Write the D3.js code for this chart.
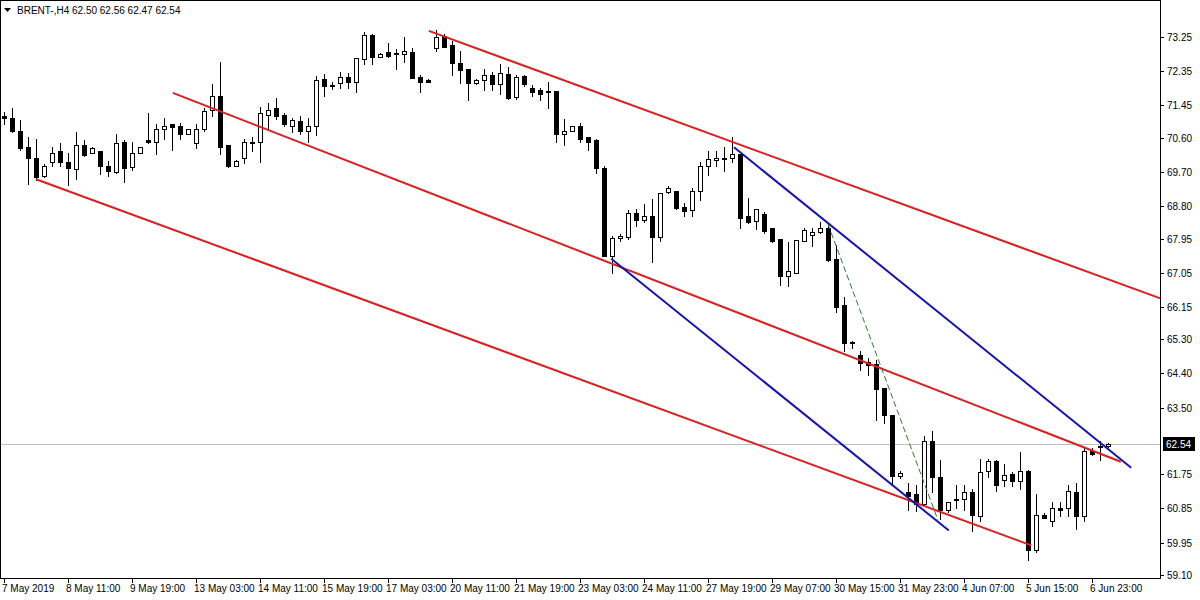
<!DOCTYPE html>
<html>
<head>
<meta charset="utf-8">
<script src="https://cdn.jsdelivr.net/npm/d3@7"></script>
<style>
body{margin:0;background:#fff;}
text{font-family:"Liberation Sans",Arial,sans-serif;font-size:10px;fill:#000;}
text.t{font-size:10px;}
</style>
</head>
<body>
<script>
// H4 candles, oldest first
var opens = [71.18,71.13,70.79,70.37,70.08,69.59,69.95,70.24,69.95,69.77,70.42,70.19,70.24,69.87,69.69,70.48,69.82,70.21,70.53,70.50,
70.84,70.95,70.90,70.71,70.45,70.84,71.34,71.71,70.40,69.87,70.08,70.50,70.48,71.21,71.37,71.21,70.92,71.05,70.79,70.90,
72.15,71.99,72.05,72.20,72.07,72.67,73.30,72.73,72.86,72.83,72.80,72.86,72.20,72.13,72.96,73.28,73.04,72.57,72.41,72.05,
72.13,72.26,72.02,72.28,71.68,72.23,71.92,71.86,71.84,71.84,70.69,70.79,70.90,70.61,70.53,69.80,67.49,67.97,67.99,68.62,
68.44,68.54,67.99,69.17,69.20,68.77,68.70,69.20,69.85,70.01,70.08,70.06,70.16,68.54,68.41,68.59,68.23,67.94,66.97,67.05,
67.89,68.04,68.12,68.23,67.42,66.19,65.21,64.88,64.70,64.64,64.02,63.31,61.71,61.29,61.22,60.98,62.63,61.69,60.82,61.09,
61.11,61.27,60.64,61.84,62.10,61.61,61.76,61.58,61.84,59.75,60.69,60.51,60.85,60.85,61.29,60.64,62.37,62.47,62.50];
var highs = [71.29,71.37,71.08,70.61,70.56,69.90,70.37,70.45,70.19,70.74,70.53,70.37,70.24,69.98,70.69,70.53,70.50,70.37,71.26,70.95,
71.13,70.95,71.00,70.84,70.95,71.37,72.02,72.60,70.40,70.01,70.58,70.63,71.42,71.52,71.65,71.24,71.13,71.16,71.13,72.23,
72.28,72.07,72.33,72.31,72.70,73.38,73.33,72.83,73.09,72.94,73.25,72.96,72.26,72.15,73.43,73.33,73.15,72.88,72.41,72.15,
72.41,72.33,72.54,72.46,72.26,72.26,71.99,71.92,72.07,71.84,71.10,70.92,71.00,70.61,70.58,69.85,68.02,68.07,68.70,68.72,
68.85,68.99,69.14,69.33,69.20,68.88,69.27,69.95,70.24,70.24,70.35,70.61,70.16,69.01,68.72,68.64,68.23,67.94,67.86,67.91,
68.23,68.23,68.38,68.36,67.78,66.40,65.25,64.98,64.80,64.75,64.02,63.31,61.84,61.53,61.48,62.76,62.89,62.13,61.01,61.48,
61.48,61.37,62.16,62.16,62.13,62.03,61.82,62.34,61.87,61.24,60.72,61.01,61.01,61.48,61.53,62.45,62.45,62.63,62.56];
var lows = [70.95,70.74,70.29,69.38,69.48,69.56,69.87,69.85,69.35,69.51,70.11,70.19,69.64,69.59,69.67,69.43,69.74,70.21,70.45,70.16,
70.56,70.29,70.56,70.71,70.32,70.79,71.18,70.16,69.82,69.85,69.93,70.24,69.95,70.84,71.10,70.90,70.74,70.71,70.50,70.66,
71.71,71.89,71.92,71.92,71.81,72.54,72.54,72.73,72.73,72.41,72.60,72.18,71.81,72.07,72.88,72.99,72.26,72.05,71.60,72.02,
71.86,71.86,71.76,71.63,71.63,71.97,71.71,71.60,71.39,70.50,70.42,70.79,70.50,70.29,69.67,67.49,67.05,67.89,67.94,68.28,
68.38,67.34,67.89,69.14,68.72,68.54,68.54,68.96,69.61,69.85,69.72,69.95,68.23,68.36,68.20,68.10,67.86,66.73,66.71,67.05,
67.89,67.76,68.10,67.36,66.03,64.98,65.06,64.49,64.36,63.18,63.10,61.48,61.66,60.80,60.79,60.95,61.27,60.56,60.77,60.85,
60.82,60.27,60.53,61.69,61.32,61.45,61.45,61.35,59.49,59.70,60.59,60.40,60.64,60.64,60.30,60.53,62.26,62.13,62.47];
var closes = [71.13,70.79,70.32,70.08,69.56,69.87,70.21,69.95,69.80,70.40,70.14,70.32,69.85,69.72,70.45,69.80,70.21,70.37,70.48,70.82,
70.92,70.87,70.71,70.82,70.84,71.31,71.71,70.37,69.85,69.98,70.50,70.45,71.24,71.34,71.18,70.97,71.08,70.79,70.92,72.13,
71.97,71.97,72.20,72.07,72.70,73.30,72.73,72.80,72.75,72.80,72.88,72.18,72.07,72.07,73.25,72.99,72.57,72.39,72.05,72.13,
72.26,72.02,72.31,71.65,72.20,72.02,71.81,71.76,71.81,70.69,70.79,70.92,70.58,70.50,69.80,67.49,67.97,68.02,68.62,68.44,
68.54,67.99,69.14,69.27,68.75,68.67,69.20,69.85,70.03,70.08,70.06,70.16,68.49,68.38,68.72,68.15,67.89,66.97,67.10,67.91,
68.18,68.12,68.23,67.39,66.16,65.19,65.22,64.67,64.62,63.99,63.31,61.71,61.77,61.19,60.98,62.63,61.69,60.82,61.01,61.06,
61.29,60.67,61.82,62.10,61.48,61.74,61.58,61.84,59.75,60.69,60.61,60.85,60.82,61.32,60.64,62.37,62.29,62.50,62.54];

var priceTicks = [73.25,72.35,71.45,70.60,69.70,68.80,67.95,67.05,66.15,65.30,64.40,63.50,61.75,60.85,59.95,59.10];
var timeLabels = ["7 May 2019","8 May 11:00","9 May 19:00","13 May 03:00","14 May 11:00","15 May 19:00","17 May 03:00",
"20 May 11:00","21 May 19:00","23 May 03:00","24 May 11:00","27 May 19:00","29 May 07:00","30 May 15:00",
"31 May 23:00","4 Jun 07:00","5 Jun 15:00","6 Jun 23:00"];
var labelStep = 8;
var lastPrice = 62.54;

// trend lines: [bar1, price1, bar2, price2]
var redChannel = [[53.1,73.41,144.6,66.37],[21.1,71.78,139.6,62.08],[4.0,69.51,128.4,59.88]];
var blueLines = [[91.25,70.35,140.9,61.92],[75.9,67.42,118.1,60.27]];
var greenLine = [[103,68.33,116.75,60.54]];

var W = 1200, H = 600, plotW = 1160, plotH = 578;

var x = d3.scaleLinear().domain([0,1]).range([4,12]);
var y = d3.scaleLinear().domain([59.10,73.25]).range([575,37]);

var svg = d3.select("body").append("svg").attr("width",W).attr("height",H);

svg.append("clipPath").attr("id","plot")
	.append("rect").attr("x",0).attr("y",0).attr("width",plotW).attr("height",plotH);

var g = svg.append("g").attr("clip-path","url(#plot)");

// current price line
g.append("line")
	.attr("x1",0).attr("x2",plotW)
	.attr("y1",Math.round(y(lastPrice))+0.5).attr("y2",Math.round(y(lastPrice))+0.5)
	.attr("stroke","#c0c0c0").attr("stroke-width",1);

var bars = d3.range(opens.length);

g.selectAll("line.wick").data(bars).enter().append("line")
	.attr("class","wick")
	.attr("x1",function(i){ return Math.round(x(i))+0.5; })
	.attr("x2",function(i){ return Math.round(x(i))+0.5; })
	.attr("y1",function(i){ return Math.round(y(highs[i])); })
	.attr("y2",function(i){ return Math.round(y(lows[i]))+1; })
	.attr("stroke","#000")
	.attr("shape-rendering","crispEdges");

g.selectAll("rect.body").data(bars).enter().append("rect")
	.attr("class","body")
	.attr("x",function(i){ return Math.round(x(i))-1.5; })
	.attr("y",function(i){ return Math.round(y(Math.max(opens[i],closes[i])))+0.5; })
	.attr("width",4)
	.attr("height",function(i){ return Math.max(0.5,Math.round(y(Math.min(opens[i],closes[i])))-Math.round(y(Math.max(opens[i],closes[i])))); })
	.attr("fill",function(i){ return closes[i] >= opens[i] ? "#fff" : "#000"; })
	.attr("stroke","#000")
	.attr("shape-rendering","crispEdges");

function drawLines(data,color,width,dash){
	g.selectAll(null).data(data).enter().append("line")
		.attr("x1",function(d){ return x(d[0]); })
		.attr("y1",function(d){ return y(d[1]); })
		.attr("x2",function(d){ return x(d[2]); })
		.attr("y2",function(d){ return y(d[3]); })
		.attr("stroke",color).attr("stroke-width",width)
		.attr("stroke-dasharray",dash);
}
drawLines(redChannel,"#dc1e1e",2,null);
drawLines(blueLines,"#1414b4",2,null);
drawLines(greenLine,"#2a7d2a",1,"6,3");

// frame
svg.append("rect").attr("x",0.5).attr("y",0.5).attr("width",plotW).attr("height",plotH)
	.attr("fill","none").attr("stroke","#000").attr("shape-rendering","crispEdges");

// price axis
var pa = svg.append("g");
pa.selectAll("line").data(priceTicks).enter().append("line")
	.attr("x1",plotW).attr("x2",plotW+4)
	.attr("y1",function(d){ return Math.round(y(d))+0.5; })
	.attr("y2",function(d){ return Math.round(y(d))+0.5; })
	.attr("stroke","#000");
pa.selectAll("text").data(priceTicks).enter().append("text")
	.attr("class","t")
	.attr("x",plotW+7).attr("y",function(d){ return y(d)+4; })
	.text(function(d){ return d.toFixed(2); });

var ly = Math.round(y(lastPrice));
svg.append("rect").attr("x",plotW+3).attr("y",ly-7).attr("width",32).attr("height",14).attr("fill","#000");
svg.append("text").attr("class","t").attr("x",plotW+6).attr("y",ly+4).style("fill","#fff").text(lastPrice.toFixed(2));

// time axis
var ta = svg.append("g");
ta.selectAll("line").data(timeLabels).enter().append("line")
	.attr("x1",function(d,i){ return Math.round(x(i*labelStep))+0.5; })
	.attr("x2",function(d,i){ return Math.round(x(i*labelStep))+0.5; })
	.attr("y1",plotH).attr("y2",plotH+5)
	.attr("stroke","#000");
ta.selectAll("text").data(timeLabels).enter().append("text")
	.attr("class","t")
	.attr("x",function(d,i){ return i == 0 ? 2 : x(i*labelStep)-2; })
	.attr("y",592)
	.text(function(d){ return d; });

// title
svg.append("path").attr("d","M4,8 L11,8 L7.5,12 Z").attr("fill","#000");
svg.append("text").attr("class","t").attr("x",17).attr("y",14).text("BRENT-,H4  62.50 62.56 62.47 62.54");
</script>
</body>
</html>
